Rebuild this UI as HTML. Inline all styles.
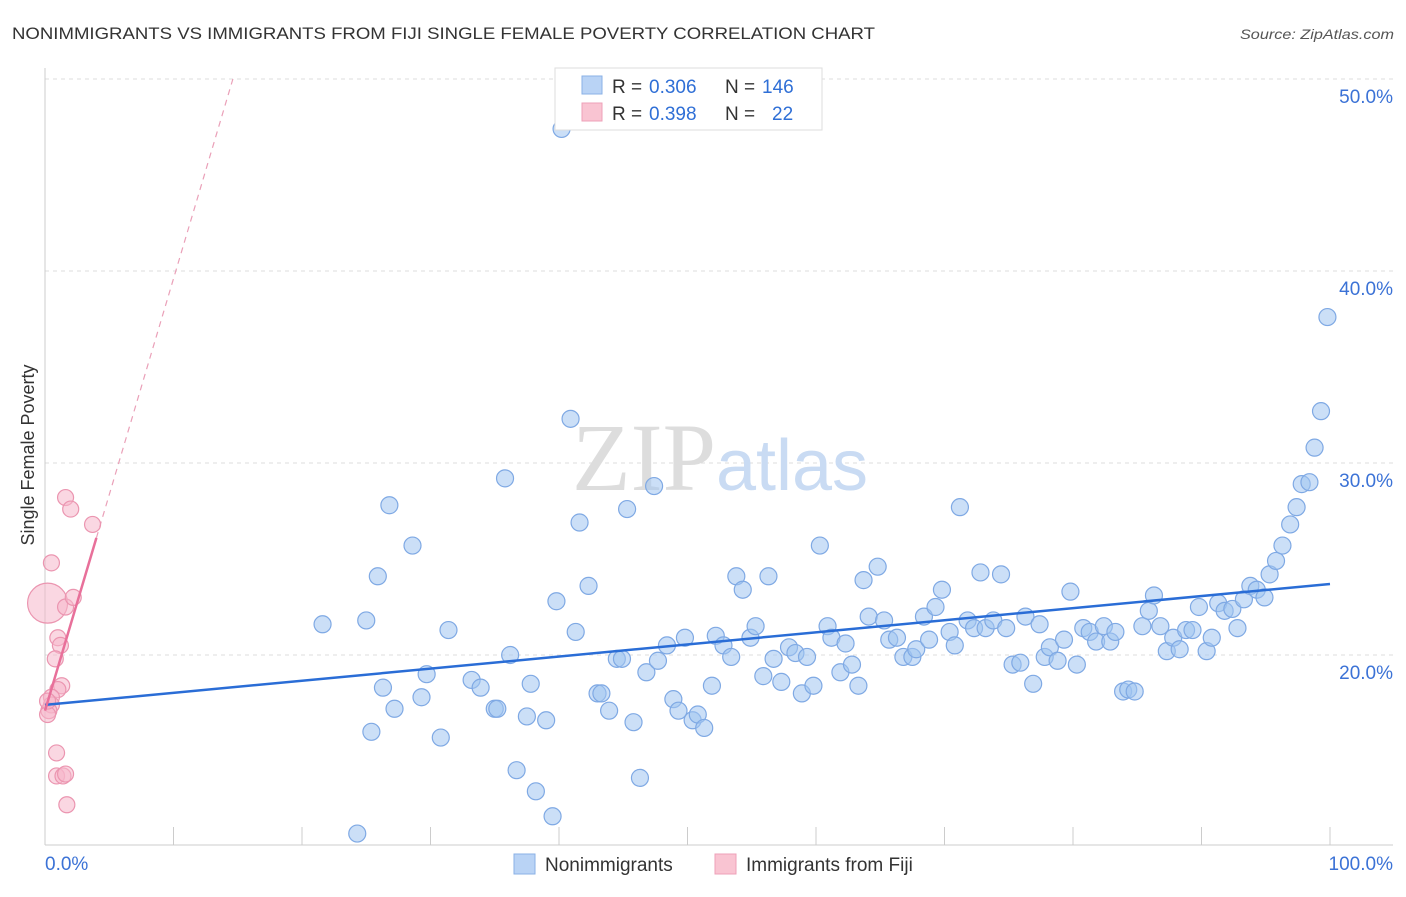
<!DOCTYPE html>
<html><head><meta charset="utf-8"><style>
body{margin:0;background:#fff;font-family:"Liberation Sans",sans-serif}
</style></head><body>
<svg id="chart" width="1406" height="892" xmlns="http://www.w3.org/2000/svg">
<text x="12" y="39" font-size="17" fill="#333" textLength="863" lengthAdjust="spacingAndGlyphs">NONIMMIGRANTS VS IMMIGRANTS FROM FIJI SINGLE FEMALE POVERTY CORRELATION CHART</text>
<text x="1240" y="39" font-size="14" fill="#555" font-style="italic" textLength="154" lengthAdjust="spacingAndGlyphs">Source: ZipAtlas.com</text>
<g id="grid"></g>
<text x="720" y="490" font-size="96" text-anchor="middle" font-family="Liberation Serif,serif" fill="#ddd">ZIP<tspan fill="#c9dbf3" font-family="Liberation Sans,sans-serif" font-size="72">atlas</tspan></text>
<text transform="translate(34,455) rotate(-90)" font-size="18" fill="#333" text-anchor="middle">Single Female Poverty</text>
<g id="marks"></g>
<g>
<rect x="555" y="68" width="267" height="62" fill="#fff" stroke="#ddd"/>
<rect x="582" y="76" width="20" height="18" fill="#b9d3f5" stroke="#8ab0e6"/>
<rect x="582" y="103" width="20" height="18" fill="#f9c4d2" stroke="#eea0b8"/>
<text x="612" y="93" font-size="19" fill="#333">R =</text>
<text x="649" y="93" font-size="19" fill="#2f6fd6">0.306</text>
<text x="725" y="93" font-size="19" fill="#333">N =</text>
<text x="762" y="93" font-size="19" fill="#2f6fd6">146</text>
<text x="612" y="120" font-size="19" fill="#333">R =</text>
<text x="649" y="120" font-size="19" fill="#2f6fd6">0.398</text>
<text x="725" y="120" font-size="19" fill="#333">N =</text>
<text x="772" y="120" font-size="19" fill="#2f6fd6">22</text>
</g>
<g>
<rect x="514" y="854" width="21" height="20" fill="#b9d3f5" stroke="#8ab0e6"/>
<text x="545" y="871" font-size="19" fill="#333">Nonimmigrants</text>
<rect x="715" y="854" width="21" height="20" fill="#f9c4d2" stroke="#eea0b8"/>
<text x="746" y="871" font-size="19" fill="#333">Immigrants from Fiji</text>
</g>
</svg>
<script>
const blueX=[40.2,21.6,25.0,26.3,26.8,25.9,27.2,25.4,28.6,29.3,
29.7,30.8,31.4,33.2,33.9,35.0,35.2,35.8,36.2,36.7,
37.5,37.8,38.2,39.0,39.5,39.8,40.9,41.3,41.6,42.3,
43.0,43.3,43.9,44.5,44.9,45.3,45.8,46.3,46.8,47.4,
47.7,48.4,48.9,49.3,49.8,50.4,50.8,51.3,51.9,52.2,
52.8,53.4,53.8,54.3,54.9,55.3,55.9,56.3,56.7,57.3,
57.9,58.4,58.9,59.3,59.8,60.3,60.9,61.2,61.9,62.3,
62.8,63.3,63.7,64.1,64.8,65.3,65.7,66.3,66.8,67.5,
67.8,68.4,68.8,69.3,69.8,70.4,70.8,71.2,71.8,72.3,
72.8,73.2,73.8,74.4,74.8,75.3,75.9,76.3,76.9,77.4,
77.8,78.2,78.8,79.3,79.8,80.3,80.8,81.3,81.8,82.4,
82.9,83.3,83.9,84.3,84.8,85.4,85.9,86.3,86.8,87.3,
87.8,88.3,88.8,89.3,89.8,90.4,90.8,91.3,91.8,92.4,
92.8,93.3,93.8,94.3,94.9,95.3,95.8,96.3,96.9,97.4,
97.8,98.4,98.8,99.3,99.8,24.3];
const blueY=[47.4,21.6,21.8,18.3,27.8,24.1,17.2,16.0,25.7,17.8,
19.0,15.7,21.3,18.7,18.3,17.2,17.2,29.2,20.0,14.0,
16.8,18.5,12.9,16.6,11.6,22.8,32.3,21.2,26.9,23.6,
18.0,18.0,17.1,19.8,19.8,27.6,16.5,13.6,19.1,28.8,
19.7,20.5,17.7,17.1,20.9,16.6,16.9,16.2,18.4,21.0,
20.5,19.9,24.1,23.4,20.9,21.5,18.9,24.1,19.8,18.6,
20.4,20.1,18.0,19.9,18.4,25.7,21.5,20.9,19.1,20.6,
19.5,18.4,23.9,22.0,24.6,21.8,20.8,20.9,19.9,19.9,
20.3,22.0,20.8,22.5,23.4,21.2,20.5,27.7,21.8,21.4,
24.3,21.4,21.8,24.2,21.4,19.5,19.6,22.0,18.5,21.6,
19.9,20.4,19.7,20.8,23.3,19.5,21.4,21.2,20.7,21.5,
20.7,21.2,18.1,18.2,18.1,21.5,22.3,23.1,21.5,20.2,
20.9,20.3,21.3,21.3,22.5,20.2,20.9,22.7,22.3,22.4,
21.4,22.9,23.6,23.4,23.0,24.2,24.9,25.7,26.8,27.7,
28.9,29.0,30.8,32.7,37.6,10.7];
const pinkX=[0.2,0.5,1.6,2.0,3.7,1.6,2.2,1.0,1.2,0.8,1.3,1.0,0.5,0.5,0.3,0.2,0.9,0.9,1.4,1.6,1.7,0.2];
const pinkY=[22.7,24.8,28.2,27.6,26.8,22.5,23.0,20.9,20.5,19.8,18.4,18.2,17.8,17.4,17.1,16.9,14.9,13.7,13.7,13.8,12.2,17.6];
const pinkR=[20,8,8,8,8,8,8,8,8,8,8,8,8,8,8,8,8,8,8,8,8,8];
const blueTrend=[17.4,23.7];
const pinkTrend=[17.1,26.1];
const yTicks=[20,30,40,50];
const xTickLabels=["0.0%","100.0%"];
const X=v=>45+v*12.85, Y=v=>1039-v*19.2;
const NS="http://www.w3.org/2000/svg";
function mk(t,a,p){const e=document.createElementNS(NS,t);for(const k in a)e.setAttribute(k,a[k]);p.appendChild(e);return e;}
const g=document.getElementById('grid'), m=document.getElementById('marks');
yTicks.forEach(v=>{
 const l=mk('line',{x1:45,x2:1393,y1:Y(v),y2:Y(v),stroke:'#ddd','stroke-dasharray':'4,4'},g);
 
 
 const t=mk('text',{x:1393,y:Y(v)+24,'font-size':19,fill:'#3b72d6','text-anchor':'end'},g);
 t.textContent=v.toFixed(1)+'%';
 
 
});
let ax=mk('line',{x1:45,x2:1393,y1:845,y2:845,stroke:'#ccc'},g);


let ay=mk('line',{x1:45,x2:45,y1:68,y2:845,stroke:'#ccc'},g);


for(let i=0;i<=10;i++){const t=mk('line',{x1:X(i*10),x2:X(i*10),y1:827,y2:845,stroke:'#ccc'},g);
 
 }
[[0,'start',45],[1,'end',1393]].forEach(([i,a,x])=>{const t=mk('text',{x:x,y:870,'font-size':19,fill:'#3b72d6','text-anchor':a},g);t.textContent=xTickLabels[i];
 
 });
blueX.forEach((x,i)=>{const c=mk('circle',{cx:X(x),cy:Y(blueY[i]),r:8.5,fill:'rgba(160,196,240,0.55)',stroke:'#7fa9e4','stroke-width':1.2},m);
 
 });
const sl=(pinkTrend[1]-pinkTrend[0])/4, xe=(50-pinkTrend[0])/sl;
let d=mk('line',{x1:X(4),y1:Y(pinkTrend[1]),x2:X(xe),y2:Y(50),stroke:'#eaa0b8','stroke-dasharray':'6,5','stroke-width':1.2},m);


pinkX.forEach((x,i)=>{const c=mk('circle',{cx:X(x),cy:Y(pinkY[i]),r:pinkR[i],fill:'rgba(246,182,202,0.55)',stroke:'#eb95b0','stroke-width':1.2},m);
 
 });
let bl=mk('line',{x1:X(0),y1:Y(blueTrend[0]),x2:X(100),y2:Y(blueTrend[1]),stroke:'#2a6dd6','stroke-width':2.5},m);


let pl=mk('line',{x1:X(0),y1:Y(pinkTrend[0]),x2:X(4),y2:Y(pinkTrend[1]),stroke:'#e8709a','stroke-width':2.5},m);


</script>
</body></html>
